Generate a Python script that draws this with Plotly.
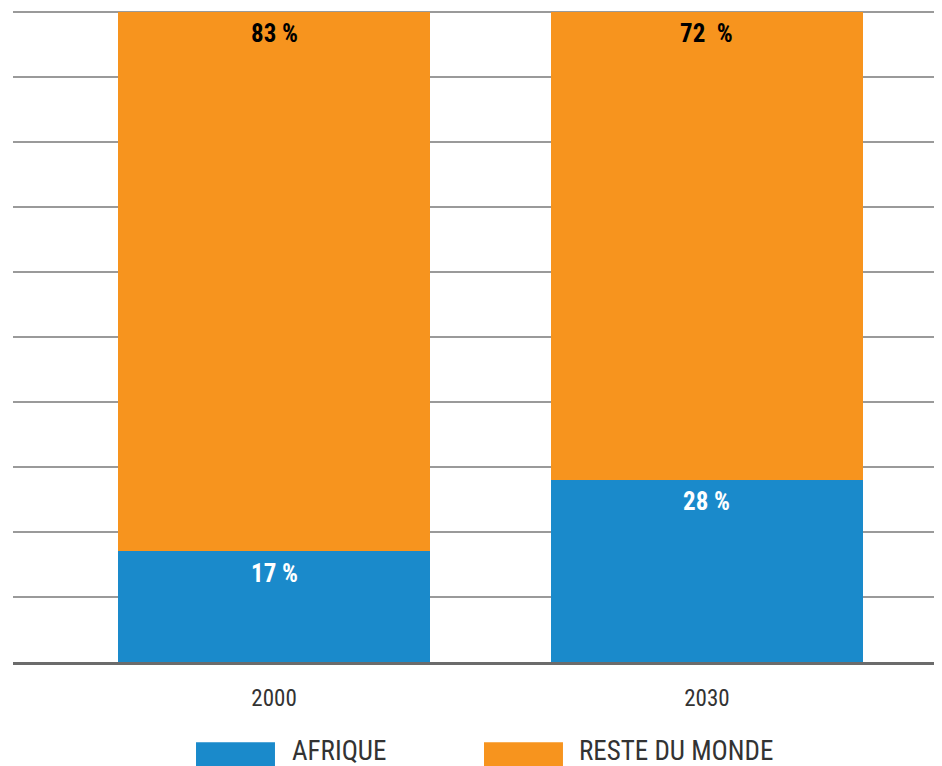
import plotly.graph_objects as go

years = ["2000", "2030"]
afrique = [17, 28]
reste = [83, 72]
afrique_labels = ["17 %", "28 %"]
reste_labels = ["83 %", "72  %"]

BLUE = "#1a8acb"
ORANGE = "#f7941e"
FONT = "Liberation Sans Narrow, Arial Narrow, Roboto Condensed, sans-serif"

fig = go.Figure()
fig.add_trace(go.Bar(x=years, y=afrique, name="AFRIQUE", width=0.72,
                     marker=dict(color=BLUE, line=dict(width=0))))
fig.add_trace(go.Bar(x=years, y=reste, name="RESTE DU MONDE", width=0.72,
                     marker=dict(color=ORANGE, line=dict(width=0))))

# value labels near the top of each segment (x given as category index)
for i, (a, r, la, lr) in enumerate(zip(afrique, reste, afrique_labels, reste_labels)):
    fig.add_annotation(x=i, y=a, text=la, showarrow=False, yshift=-22,
                       font=dict(family=FONT, size=25, color="white", weight="bold"))
    fig.add_annotation(x=i, y=a + r, text=lr, showarrow=False, yshift=-22,
                       font=dict(family=FONT, size=25, color="black", weight="bold"))

# custom legend
legend_items = [("AFRIQUE", BLUE, 0.197, 0.282, 0.298),
                ("RESTE DU MONDE", ORANGE, 0.507, 0.592, 0.607)]
for name, col, x0, x1, xt in legend_items:
    fig.add_shape(type="rect", xref="paper", yref="paper", x0=x0, x1=x1,
                  y0=-0.175, y1=-0.123, fillcolor=col, line=dict(width=0))
    fig.add_annotation(xref="paper", yref="paper", x=xt, y=-0.136, text=name,
                       showarrow=False, xanchor="left", yanchor="middle",
                       font=dict(family=FONT, size=27, color="#333333"))

# page body adds an 8px offset, so the figure is 8px smaller and shifted
fig.update_layout(
    barmode="stack",
    width=934, height=758,
    margin=dict(l=5, r=0, t=2, b=104),
    plot_bgcolor="white", paper_bgcolor="white",
    showlegend=False,
    font=dict(family=FONT, color="#333333"),
)
fig.update_xaxes(type="category", range=[-0.603, 1.543],
                 showline=True, linecolor="#6b6b6b", linewidth=3,
                 showgrid=False, ticks="", ticklabelstandoff=13,
                 tickfont=dict(family=FONT, size=23, color="#333333"))
fig.update_yaxes(range=[0, 100.3], dtick=10, showticklabels=False,
                 showgrid=True, gridcolor="#9a9a9a", gridwidth=2,
                 zeroline=False)

fig.write_html("out.html")
